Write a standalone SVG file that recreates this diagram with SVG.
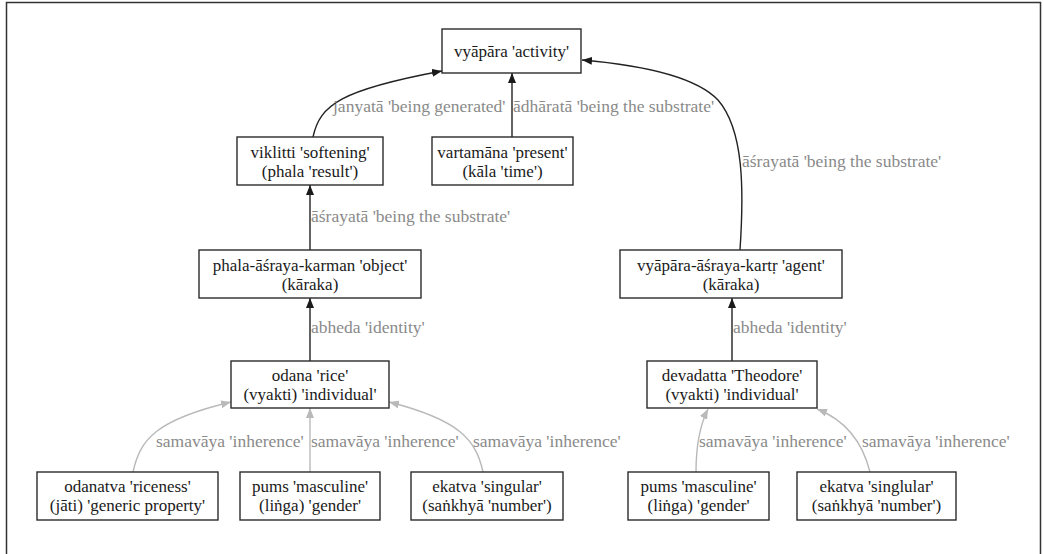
<svg xmlns="http://www.w3.org/2000/svg" width="1044" height="554" viewBox="0 0 1044 554">
  <style>
    .node rect { fill: #fff; stroke: #2b2b2b; stroke-width: 1.4; }
    .node text { font-family: "Liberation Serif", "Times New Roman", serif; font-size: 17px; fill: #1a1a1a; text-anchor: middle; }
    .lbl { font-family: "Liberation Serif", "Times New Roman", serif; font-size: 17.5px; fill: #8a8a8a; }
    .e { fill: none; stroke: #222; stroke-width: 1.4; }
    .g { fill: none; stroke: #b9b9b9; stroke-width: 1.4; }
  </style>
  <defs>
    <marker id="ah" markerUnits="userSpaceOnUse" markerWidth="11" markerHeight="8" refX="10" refY="4" orient="auto">
      <path d="M0,0 L10,4 L0,8 z" fill="#1a1a1a"/>
    </marker>
    <marker id="ahg" markerUnits="userSpaceOnUse" markerWidth="11" markerHeight="8" refX="10" refY="4" orient="auto">
      <path d="M0,0 L10,4 L0,8 z" fill="#b9b9b9"/>
    </marker>
  </defs>

  <rect width="1044" height="554" fill="#fff"/>
  <!-- frame -->
  <path d="M6.5,554 V2.5 H1040.5 V554" fill="none" stroke="#333" stroke-width="1.5"/>

  <!-- connectors -->
  <g id="edges">
    <path class="e" d="M313,137 C320,105 340,90 442,71" marker-end="url(#ah)"/>
    <path class="e" d="M512,137 V73" marker-end="url(#ah)"/>
    <path class="e" d="M740,250 C744,190 744,130 718,100 C695,76 640,65 582,60" marker-end="url(#ah)"/>
    <path class="e" d="M310,250 V185" marker-end="url(#ah)"/>
    <path class="e" d="M310,361 V298" marker-end="url(#ah)"/>
    <path class="e" d="M732,361 V298" marker-end="url(#ah)"/>
    <path class="g" d="M133,472 C140,440 155,420 231,402" marker-end="url(#ahg)"/>
    <path class="g" d="M310,472 V408" marker-end="url(#ahg)"/>
    <path class="g" d="M483,472 C476,440 460,420 389,402" marker-end="url(#ahg)"/>
    <path class="g" d="M696,472 C696,445 700,425 708,409" marker-end="url(#ahg)"/>
    <path class="g" d="M870,472 C862,440 845,420 817,409" marker-end="url(#ahg)"/>

    <text class="lbl" x="333" y="112">janyatā 'being generated'</text>
    <text class="lbl" x="513" y="112">ādhāratā 'being the substrate'</text>
    <text class="lbl" x="742" y="167">āśrayatā 'being the substrate'</text>
    <text class="lbl" x="311" y="222">āśrayatā 'being the substrate'</text>
    <text class="lbl" x="311" y="333">abheda 'identity'</text>
    <text class="lbl" x="733" y="333">abheda 'identity'</text>
    <text class="lbl" x="156" y="447">samavāya 'inherence'</text>
    <text class="lbl" x="311" y="447">samavāya 'inherence'</text>
    <text class="lbl" x="473" y="447">samavāya 'inherence'</text>
    <text class="lbl" x="699" y="447">samavāya 'inherence'</text>
    <text class="lbl" x="862" y="447">samavāya 'inherence'</text>
  </g>

  <!-- nodes -->
  <g id="vyapara" class="node">
    <rect x="442" y="29" width="139" height="44"/>
    <text x="511.5" y="57">vyāpāra 'activity'</text>
  </g>
  <g id="viklitti" class="node">
    <rect x="237" y="137" width="146" height="48"/>
    <text x="310" y="158">viklitti 'softening'</text>
    <text x="310" y="177">(phala 'result')</text>
  </g>
  <g id="vartamana" class="node">
    <rect x="432" y="137" width="141" height="48"/>
    <text x="502.5" y="158">vartamāna 'present'</text>
    <text x="502.5" y="177">(kāla 'time')</text>
  </g>
  <g id="karman" class="node">
    <rect x="199" y="250" width="222" height="48"/>
    <text x="310" y="271">phala-āśraya-karman 'object'</text>
    <text x="310" y="290">(kāraka)</text>
  </g>
  <g id="kartr" class="node">
    <rect x="620" y="250" width="222" height="48"/>
    <text x="731" y="271">vyāpāra-āśraya-kartṛ 'agent'</text>
    <text x="731" y="290">(kāraka)</text>
  </g>
  <g id="odana" class="node">
    <rect x="231" y="361" width="158" height="47"/>
    <text x="310" y="381">odana 'rice'</text>
    <text x="310" y="400">(vyakti) 'individual'</text>
  </g>
  <g id="devadatta" class="node">
    <rect x="647" y="361" width="170" height="47"/>
    <text x="732" y="381">devadatta 'Theodore'</text>
    <text x="732" y="400">(vyakti) 'individual'</text>
  </g>
  <g id="odanatva" class="node">
    <rect x="37" y="472" width="181" height="48"/>
    <text x="127.5" y="492">odanatva 'riceness'</text>
    <text x="127.5" y="511">(jāti) 'generic property'</text>
  </g>
  <g id="pums1" class="node">
    <rect x="240" y="472" width="140" height="48"/>
    <text x="310" y="492">pums 'masculine'</text>
    <text x="310" y="511">(liṅga) 'gender'</text>
  </g>
  <g id="ekatva1" class="node">
    <rect x="411" y="472" width="152" height="48"/>
    <text x="487" y="492">ekatva 'singular'</text>
    <text x="487" y="511">(saṅkhyā 'number')</text>
  </g>
  <g id="pums2" class="node">
    <rect x="628" y="472" width="141" height="48"/>
    <text x="698.5" y="492">pums 'masculine'</text>
    <text x="698.5" y="511">(liṅga) 'gender'</text>
  </g>
  <g id="ekatva2" class="node">
    <rect x="797" y="472" width="159" height="48"/>
    <text x="876.5" y="492">ekatva 'singlular'</text>
    <text x="876.5" y="511">(saṅkhyā 'number')</text>
  </g>
</svg>
